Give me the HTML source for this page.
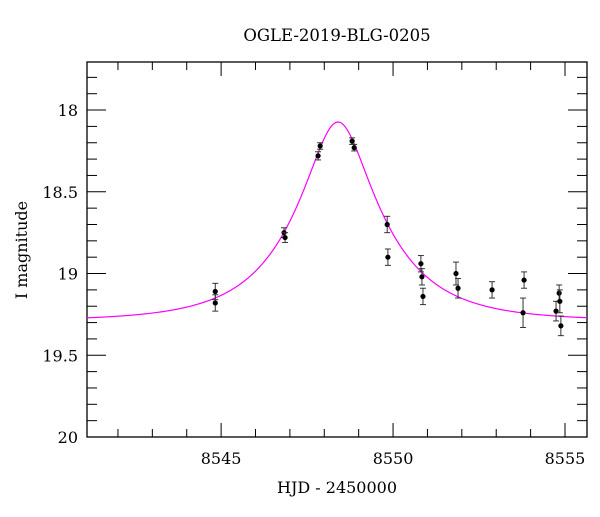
<!DOCTYPE html>
<html><head><meta charset="utf-8"><style>
body{margin:0;background:#fff}
svg text{font-family:"DejaVu Serif","Liberation Serif",serif;fill:#000}
</style></head><body>
<svg id="c" width="600" height="512"></svg>
<script>
const hjd=[8544.83,8544.83,8546.83,8546.86,8547.82,8547.88,8548.81,8548.87,8549.83,8549.85,8550.81,8550.84,8550.87,8551.83,8551.89,8552.88,8553.78,8553.81,8554.74,8554.83,8554.85,8554.88];
const mag=[19.11,19.18,18.75,18.78,18.28,18.22,18.19,18.23,18.70,18.90,18.94,19.02,19.14,19.00,19.09,19.10,19.24,19.04,19.23,19.12,19.17,19.32];
const err=[0.05,0.05,0.03,0.03,0.025,0.02,0.02,0.02,0.05,0.05,0.05,0.05,0.05,0.07,0.06,0.05,0.09,0.05,0.06,0.05,0.07,0.06];
const xTicks=[8545,8550,8555];
const yTicks=[18,18.5,19,19.5,20];
const model={t0:8548.4,u0:0.34,tE:2.48,base:19.29};
const L=87,R=587,T=62,B=437,x0=8541.1,x1=8555.64,y0=17.706,y1=20;
const sx=v=>L+(v-x0)/(x1-x0)*(R-L), sy=v=>T+(v-y0)/(y1-y0)*(B-T);
const svg=document.getElementById('c'),NS='http://www.w3.org/2000/svg';
function el(t,a,p){const e=document.createElementNS(NS,t);for(const k in a)e.setAttribute(k,a[k]);(p||svg).appendChild(e);return e;}
let e;
e=el('text',{x:337,y:41,'text-anchor':'middle','font-size':16.5});e.textContent='OGLE-2019-BLG-0205';


e=el('rect',{x:L,y:T,width:R-L,height:B-T,fill:'none',stroke:'#000','stroke-width':1.3});


for(let v=Math.ceil(x0);v<=x1;v++){const maj=v%5===0,len=maj?14:8,X=sx(v);
 el('line',{x1:X,y1:B,x2:X,y2:B-len,stroke:'#000'});el('line',{x1:X,y1:T,x2:X,y2:T+len,stroke:'#000'});}
xTicks.forEach(v=>{e=el('text',{x:sx(v),y:464,'text-anchor':'middle','font-size':16});e.textContent=v;
 
 });
for(let i=Math.ceil(y0*10);i<=y1*10;i++){const v=i/10,maj=i%5===0,len=maj?19:10,Y=sy(v);
 el('line',{x1:L,y1:Y,x2:L+len,y2:Y,stroke:'#000'});el('line',{x1:R,y1:Y,x2:R-len,y2:Y,stroke:'#000'});}
yTicks.forEach(v=>{e=el('text',{x:78,y:sy(v)+6,'text-anchor':'end','font-size':16});e.textContent=v;
 
 });
e=el('text',{x:337,y:493,'text-anchor':'middle','font-size':16});e.textContent='HJD - 2450000';


e=el('text',{x:0,y:0,'text-anchor':'middle','font-size':16,transform:'translate(27,250) rotate(-90)'});e.textContent='I magnitude';


let d='';for(let i=0;i<=500;i++){const t=x0+(x1-x0)*i/500,tau=(t-model.t0)/model.tE,u=Math.sqrt(model.u0*model.u0+tau*tau),A=(u*u+2)/(u*Math.sqrt(u*u+4)),m=model.base-2.5*Math.log10(A);d+=(i?'L':'M')+sx(t).toFixed(2)+','+sy(m).toFixed(2);}
e=el('path',{d:d,fill:'none',stroke:'#ff00ff','stroke-width':1.2});


hjd.forEach((t,i)=>{const g=el('g',{});
 
 
 const X=sx(t),a=sy(mag[i]-err[i]),b=sy(mag[i]+err[i]);
 el('line',{x1:X,y1:a,x2:X,y2:b,stroke:'#333'},g);
 el('line',{x1:X-3,y1:a,x2:X+3,y2:a,stroke:'#333'},g);
 el('line',{x1:X-3,y1:b,x2:X+3,y2:b,stroke:'#333'},g);
 el('circle',{cx:X,cy:sy(mag[i]),r:2.6,fill:'#000'},g);});
</script>
</body></html>
